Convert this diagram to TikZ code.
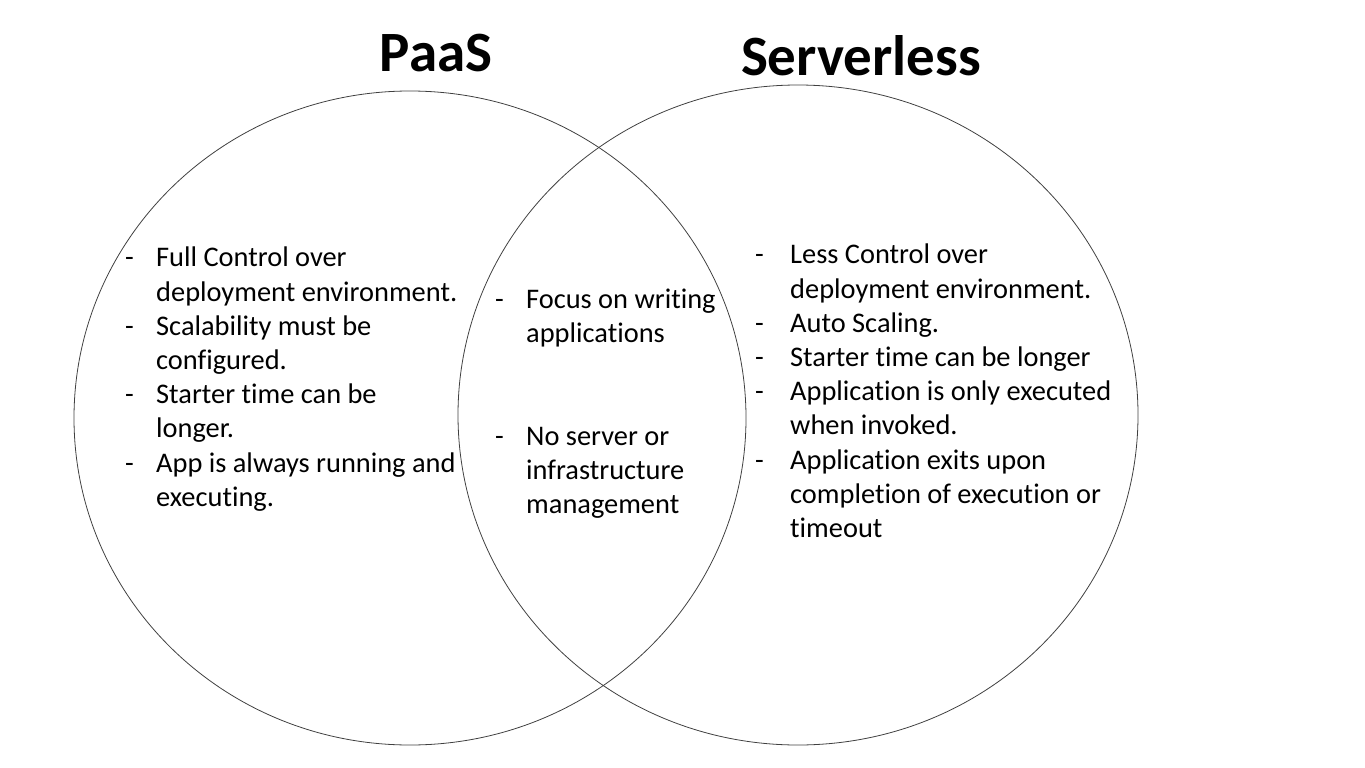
\documentclass[tikz,border=0pt]{standalone}
\usepackage{fontspec}
\setmainfont{Carlito}[Ligatures=NoCommon]
\usepackage{tikz}
\usetikzlibrary{shapes.geometric, positioning}

\newlength{\dashw}
\newcommand{\bul}{\makebox[\dashw][l]{-}}
\newcommand{\cnt}{\hspace*{\dashw}}

\begin{document}
\begin{tikzpicture}[
    x=1pt, y=-1pt,
    venn/.style={ellipse, draw=black!75, line width=0.8pt, inner sep=0pt},
    heading/.style={font=\fontsize{57}{62}\selectfont\bfseries,
                    anchor=base, inner sep=0pt},
    points/.style={font=\fontsize{28.4}{34.2}\selectfont, align=left,
                   anchor=north west, inner sep=0pt,
                   execute at begin node={\setlength{\dashw}{#1}}},
    points/.default=31pt,
  ]
    \useasboundingbox (0,0) rectangle (1365,768);

    % Circles
    \node[venn, minimum width=672pt, minimum height=654pt] (paas) at (410,418) {};
    \node[venn, minimum width=680pt, minimum height=660pt] (srvl) at (798,415) {};

    % Titles
    \node[heading] (paastitle) at (436,71) {PaaS};
    \node[heading] (srvltitle) at (861,76) {Serverless};

    % PaaS only
    \node[points] (paaslist) at (125,247) {%
      \bul Full Control over\\
      \cnt deployment environment.\\
      \bul Scalability must be\\
      \cnt configured.\\
      \bul Starter time can be\\
      \cnt longer.\\
      \bul App is always running and\\
      \cnt executing.};

    % Both
    \node[points=31pt] (bothlist) at (495,289) {%
      \bul Focus on writing\\
      \cnt applications\\[68pt]
      \bul No server or\\
      \cnt infrastructure\\
      \cnt management};

    % Serverless only
    \node[points=35pt] (srvllist) at (755,244) {%
      \bul Less Control over\\
      \cnt deployment environment.\\
      \bul Auto Scaling.\\
      \bul Starter time can be longer\\
      \bul Application is only executed\\
      \cnt when invoked.\\
      \bul Application exits upon\\
      \cnt completion of execution or\\
      \cnt timeout};
  \end{tikzpicture}
\end{document}
